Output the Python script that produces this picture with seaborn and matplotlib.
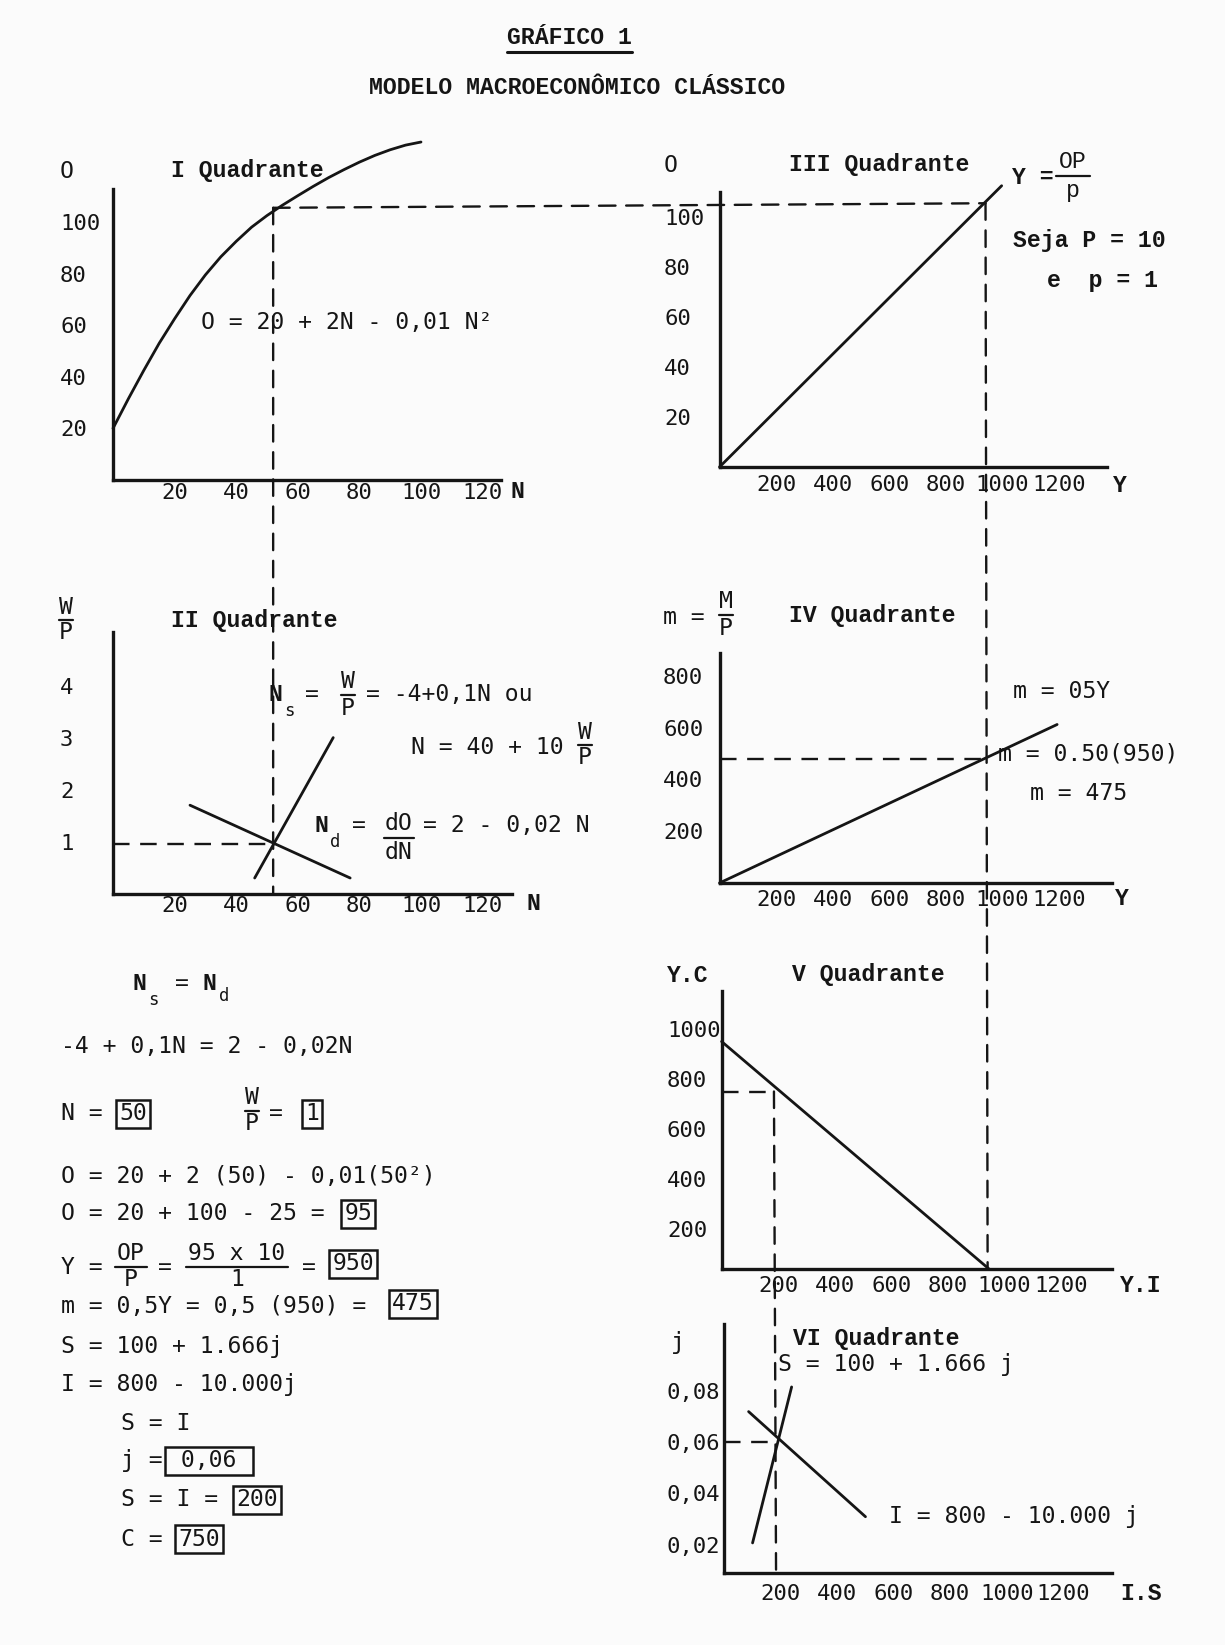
import numpy as np
import pandas as pd
import matplotlib
matplotlib.use("Agg")
import matplotlib.pyplot as plt
import seaborn as sns
from matplotlib.patches import ConnectionPatch
from matplotlib.lines import Line2D

# ---------------- data ----------------
# I Quadrante : O = f(N)
N_curve = [0, 5, 10, 15, 20, 25, 30, 35, 40, 45, 50, 55, 60, 65, 70, 75, 80, 85, 90, 95, 100]
O_curve = [20, 31.5, 42.5, 53, 62.5, 71.5, 79.5, 86.5, 92.5, 98, 102.5, 106.5,
           110.2, 113.8, 117.2, 120.3, 123.2, 125.8, 128, 129.8, 131]
# II Quadrante : labour supply / demand
N_supply = [46, 71.5]
WP_supply = [0.3, 3.0]
N_demand = [25, 77]
WP_demand = [1.7, 0.3]
# III Quadrante : Y = OP/p
Y_q3 = [0, 997]
O_q3 = [0, 112.5]
# IV Quadrante : m = 0,5 Y
Y_q4 = [0, 1193]
m_q4 = [0, 612]
# V Quadrante : Y.C vs Y.I
YI_q5 = [0, 945]
YC_q5 = [950, 40]
# VI Quadrante : S and I vs j
S_q6 = [102, 240]
jS_q6 = [0.0207, 0.0814]
I_q6 = [88, 501]
jI_q6 = [0.0718, 0.0309]
# equilibrium guide values
N_eq, O_eq, WP_eq = 52, 105.5, 0.95
Y_eq, m_eq = 940, 478
I_eq, C_eq, j_eq = 185, 750, 0.06

# ticks
N_ticks = [20, 40, 60, 80, 100, 120]
O_ticks = [20, 40, 60, 80, 100]
WP_ticks = [1, 2, 3, 4]
Y_ticks = [200, 400, 600, 800, 1000, 1200]
m_ticks = [200, 400, 600, 800]
YC_ticks = [200, 400, 600, 800, 1000]
j_ticks = [0.02, 0.04, 0.06, 0.08]
j_labels = ["0,02", "0,04", "0,06", "0,08"]

# ---------------- style ----------------
sns.set_theme(style="white")
W, H = 1225, 1645
PX = 100 / 72.0
FS = 16.7
TFS = 16.0
SUB = 12.5
MONO = ["DejaVu Sans Mono", "DejaVu Sans"]
SERIF_MONO = ["Liberation Mono", "DejaVu Sans Mono"]
INK = "#151515"
plt.rcParams["font.family"] = MONO

fig = plt.figure(figsize=(W / 100, H / 100), dpi=100)
fig.patch.set_facecolor("#fbfbfb")


def make_ax(x0, ybot, ytop, xright, xs, ys, xticks, yticks, ylab_left,
            xpad, ymin=0.0, ylabels=None):
    ax = fig.add_axes([x0 / W, 1 - ybot / H, (xright - x0) / W, (ybot - ytop) / H])
    ax.set_facecolor("none")
    ax.set_xlim(0, (xright - x0) / xs)
    ax.set_ylim(ymin, ymin + (ybot - ytop) / ys)
    for s in ["top", "right"]:
        ax.spines[s].set_visible(False)
    for s in ["left", "bottom"]:
        ax.spines[s].set_linewidth(2.4)
        ax.spines[s].set_color(INK)
    ax.set_xticks(xticks)
    ax.set_yticks(yticks)
    ax.set_xticklabels([str(v) for v in xticks], fontsize=TFS, family=MONO, color=INK)
    ax.set_yticklabels(ylabels if ylabels else [str(v) for v in yticks],
                       fontsize=TFS, family=MONO, color=INK)
    ax.tick_params(axis="both", length=0)
    ax.tick_params(axis="x", pad=xpad)
    ax.tick_params(axis="y", pad=(x0 - ylab_left) / PX)
    for t in ax.get_yticklabels():
        t.set_horizontalalignment("left")
    ax.grid(False)
    return ax


def line(ax, x, y, lw=2.0):
    df = pd.DataFrame({"x": x, "y": y})
    sns.lineplot(data=df, x="x", y="y", ax=ax, color=INK, lw=lw, sort=False,
                 estimator=None, clip_on=False)
    ax.set_xlabel("")
    ax.set_ylabel("")


DASH = (0, (7, 4.5))
DLW = 1.7


def dashed(ax, x, y):
    ax.plot(x, y, color=INK, lw=DLW, linestyle=DASH, clip_on=False)


def connect(axA, pA, axB, pB):
    con = ConnectionPatch(xyA=pA, coordsA=axA.transData, xyB=pB, coordsB=axB.transData,
                          color=INK, lw=DLW, linestyle=DASH)
    fig.add_artist(con)


def T(x, y, s, ha="left", size=FS, family=None, weight="normal", **kw):
    fig.text(x / W, 1 - y / H, s, ha=ha, va="center", fontsize=size,
             family=family if family else MONO, weight=weight, color=INK, **kw)


def hbar(x0, x1, y, lw=1.6):
    fig.add_artist(Line2D([x0 / W, x1 / W], [1 - y / H, 1 - y / H],
                          transform=fig.transFigure, color=INK, lw=lw))


def frac(xc, ybar, num, den, half=8, gap=13, size=FS, family=None):
    T(xc, ybar - gap, num, ha="center", size=size, family=family)
    T(xc, ybar + gap, den, ha="center", size=size, family=family)
    hbar(xc - half, xc + half, ybar)


BOX = dict(boxstyle="square,pad=0.12", fc="none", ec=INK, lw=1.8)

# ---------------- panels ----------------
XS = 0.283
ax1 = make_ax(113, 480, 189, 501, 3.08, 2.58, N_ticks, O_ticks, 60, 2)
ax2 = make_ax(113, 893.6, 632, 512, 3.08, 52, N_ticks, WP_ticks, 60, 2)
ax3 = make_ax(719.5, 467, 192, 1106.5, XS, 2.5, Y_ticks, O_ticks, 664, 6)
ax4 = make_ax(719.5, 883, 653.4, 1111.7, XS, 0.259, Y_ticks, m_ticks, 663, 5)
ax5 = make_ax(721.6, 1269, 991, 1111.7, XS, 0.25, Y_ticks, YC_ticks, 667, 5, ymin=40)
ax6 = make_ax(723.7, 1573, 1323.6, 1111.7, XS, 2570, Y_ticks, j_ticks, 667, 8,
              ymin=0.009, ylabels=j_labels)

line(ax1, N_curve, O_curve)
line(ax2, N_supply, WP_supply)
line(ax2, N_demand, WP_demand)
line(ax3, Y_q3, O_q3)
line(ax4, Y_q4, m_q4)
line(ax5, YI_q5, YC_q5)
line(ax6, S_q6, jS_q6)
line(ax6, I_q6, jI_q6)

# guide lines
connect(ax1, (N_eq, O_eq), ax3, (Y_eq, O_eq))
connect(ax1, (N_eq, O_eq), ax2, (N_eq, ax2.get_ylim()[0]))
dashed(ax2, [0, N_eq], [WP_eq, WP_eq])
connect(ax3, (Y_eq, O_eq), ax5, (Y_eq, ax5.get_ylim()[0]))
dashed(ax4, [0, Y_eq], [m_eq, m_eq])
dashed(ax5, [0, I_eq], [C_eq, C_eq])
connect(ax5, (I_eq, C_eq), ax6, (I_eq, ax6.get_ylim()[0]))
dashed(ax6, [0, I_eq], [j_eq, j_eq])

# ---------------- titles ----------------
T(569.5, 38, "GRÁFICO 1", ha="center", family=SERIF_MONO, weight="bold")
hbar(507, 632, 52, lw=2.2)
T(577, 87, "MODELO MACROECONÔMICO CLÁSSICO", ha="center", family=SERIF_MONO, weight="bold")

# ---------------- I Quadrante ----------------
T(60, 171, "O")
T(171, 171, "I Quadrante", family=SERIF_MONO, weight="bold")
T(201, 323, "O = 20 + 2N - 0,01 N²")
T(510, 491, "N", family=SERIF_MONO, weight="bold")

# ---------------- III Quadrante ----------------
T(664, 166, "O")
T(789, 165, "III Quadrante", family=SERIF_MONO, weight="bold")
T(1012, 177, "Y =", family=SERIF_MONO, weight="bold")
frac(1073, 176, "OP", "p", half=17, gap=15, family=SERIF_MONO)
T(1013, 241, "Seja P = 10", family=SERIF_MONO, weight="bold")
T(1047, 280, "e  p = 1", family=SERIF_MONO, weight="bold")
T(1113, 486, "Y", family=SERIF_MONO, weight="bold")

# ---------------- II Quadrante ----------------
frac(66, 620, "W", "P", half=7, gap=13)
T(171, 621, "II Quadrante", family=SERIF_MONO, weight="bold")
T(268, 694, "N", family=SERIF_MONO, weight="bold")
T(284, 711, "s", size=SUB)
T(305, 694, "=")
frac(348, 695, "W", "P", half=7, gap=13)
T(366, 694, "= -4+0,1N ou")
T(411, 748, "N = 40 + 10")
frac(585, 745, "W", "P", half=7, gap=13)
T(314, 826, "N", family=SERIF_MONO, weight="bold")
T(330, 842, "d", size=SUB)
T(352, 826, "=")
frac(399, 838, "dO", "dN", half=15, gap=14)
T(423, 826, "= 2 - 0,02 N")
T(526, 904, "N", family=SERIF_MONO, weight="bold")

# ---------------- IV Quadrante ----------------
T(663, 618, "m =")
frac(726, 615, "M", "P", half=7, gap=13)
T(789, 615, "IV Quadrante", family=SERIF_MONO, weight="bold")
T(1013, 691, "m = 05Y")
T(998, 754, "m = 0.50(950)")
T(1030, 794, "m = 475")
T(1115, 899, "Y", family=SERIF_MONO, weight="bold")

# ---------------- V Quadrante ----------------
T(667, 975, "Y.C", family=SERIF_MONO, weight="bold")
T(792, 975, "V Quadrante", family=SERIF_MONO, weight="bold")
T(1120, 1285, "Y.I", family=SERIF_MONO, weight="bold")

# ---------------- VI Quadrante ----------------
T(671, 1342, "j")
T(793, 1339, "VI Quadrante", family=SERIF_MONO, weight="bold")
T(778, 1364, "S = 100 + 1.666 j")
T(889, 1517, "I = 800 - 10.000 j")
T(1120, 1594, "I.S", family=SERIF_MONO, weight="bold")

# ---------------- solution text (left, bottom) ----------------
T(133, 983, "N", family=SERIF_MONO, weight="bold")
T(148, 1000, "s", size=SUB)
T(175, 983, "=")
T(203, 983, "N", family=SERIF_MONO, weight="bold")
T(219, 996, "d", size=SUB)
T(61, 1046, "-4 + 0,1N = 2 - 0,02N")
T(61, 1114, "N =")
T(133, 1114, "50", ha="center", bbox=BOX)
frac(252, 1111, "W", "P", half=7, gap=13)
T(276, 1114, "=", ha="center")
T(312, 1114, "1", ha="center", bbox=BOX)
T(61, 1177, "O = 20 + 2 (50) - 0,01(50²)")
T(61, 1214, "O = 20 + 100 - 25 =")
T(358, 1214, "95", ha="center", bbox=BOX)
T(61, 1267, "Y =")
frac(131, 1267, "OP", "P", half=16, gap=13)
T(165, 1267, "=", ha="center")
frac(237, 1267, "95 x 10", "1", half=51, gap=13)
T(309, 1267, "=", ha="center")
T(353, 1264, "950", ha="center", bbox=BOX)
T(61, 1306, "m = 0,5Y = 0,5 (950) =")
T(413, 1304, "475", ha="center", bbox=BOX)
T(61, 1346, "S = 100 + 1.666j")
T(61, 1384, "I = 800 - 10.000j")
T(121, 1423, "S = I")
T(121, 1461, "j =")
T(209, 1461, " 0,06 ", ha="center", bbox=BOX)
T(121, 1500, "S = I =")
T(257, 1500, "200", ha="center", bbox=BOX)
T(121, 1539, "C =")
T(199, 1539, "750", ha="center", bbox=BOX)

fig.savefig("out.png", dpi=100, facecolor=fig.get_facecolor())
